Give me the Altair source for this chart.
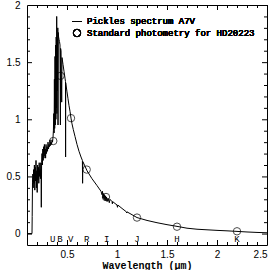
import altair as alt
import pandas as pd

# Pickles A7V spectrum
wavelength = [0.10, 0.12, 0.14, 0.150, 0.152, 0.155, 0.158, 0.162, 0.166, 0.170, 0.174, 0.178,
              0.182, 0.186, 0.190, 0.194, 0.198, 0.202, 0.206, 0.210, 0.214, 0.218, 0.222, 0.226,
              0.230, 0.234, 0.238, 0.241, 0.243, 0.246, 0.250, 0.254, 0.258, 0.262, 0.266, 0.270,
              0.274, 0.278, 0.282, 0.286, 0.290, 0.295, 0.300, 0.305, 0.310, 0.315, 0.320, 0.325,
              0.330, 0.335, 0.340, 0.345, 0.350, 0.355, 0.360, 0.364, 0.368, 0.371, 0.374, 0.377,
              0.380, 0.383, 0.386, 0.389, 0.392, 0.395, 0.397, 0.399, 0.402, 0.405, 0.408, 0.410,
              0.412, 0.416, 0.420, 0.425, 0.430, 0.434, 0.436, 0.440, 0.447, 0.450, 0.460, 0.470,
              0.480, 0.485, 0.486, 0.487, 0.490, 0.500, 0.510, 0.520, 0.530, 0.540, 0.550, 0.563,
              0.580, 0.600, 0.620, 0.640, 0.654, 0.656, 0.658, 0.680, 0.700, 0.750, 0.800, 0.840,
              0.850, 0.855, 0.860, 0.866, 0.870, 0.875, 0.880, 0.886, 0.890, 0.895, 0.901, 0.910,
              0.923, 0.930, 0.950, 0.954, 0.956, 1.000, 1.005, 1.008, 1.050, 1.094, 1.097, 1.100,
              1.150, 1.200, 1.300, 1.400, 1.500, 1.600, 1.700, 1.800, 1.900, 2.000, 2.100, 2.200,
              2.300, 2.400, 2.500]
flux = [0.0, 0.0, 0.0, 0.0, 0.15, 0.45, 0.52, 0.40, 0.56, 0.44, 0.60, 0.38,
        0.58, 0.46, 0.64, 0.40, 0.55, 0.36, 0.60, 0.47, 0.58, 0.44, 0.62, 0.50,
        0.56, 0.48, 0.62, 0.52, 0.23, 0.62, 0.70, 0.60, 0.74, 0.64, 0.76, 0.66,
        0.78, 0.68, 0.74, 0.66, 0.78, 0.70, 0.76, 0.72, 0.80, 0.74, 0.78, 0.76,
        0.82, 0.77, 0.80, 0.78, 0.82, 0.80, 0.84, 0.90, 1.05, 0.88, 1.35, 0.92,
        1.55, 0.95, 1.65, 1.00, 1.72, 1.10, 1.90, 1.05, 1.70, 1.25, 1.80, 0.95,
        1.76, 1.72, 1.70, 1.68, 1.65, 0.95, 1.62, 1.60, 1.15, 1.54, 1.48, 1.42,
        1.36, 1.33, 0.67, 1.32, 1.30, 1.24, 1.18, 1.12, 1.07, 1.01, 0.96, 0.91,
        0.85, 0.78, 0.72, 0.67, 0.64, 0.44, 0.63, 0.59, 0.55, 0.48, 0.42, 0.37,
        0.34, 0.37, 0.31, 0.35, 0.30, 0.34, 0.29, 0.33, 0.29, 0.32, 0.28, 0.31,
        0.27, 0.30, 0.28, 0.26, 0.28, 0.25, 0.23, 0.25, 0.22, 0.19, 0.18, 0.19,
        0.165, 0.14, 0.115, 0.095, 0.078, 0.063, 0.047, 0.038, 0.033, 0.028, 0.024, 0.019,
        0.014, 0.010, 0.007]

# Standard photometry for HD20223
phot_wavelength = [0.363, 0.435, 0.54, 0.697, 0.89, 1.20, 1.60, 2.20]
phot_flux = [0.81, 1.38, 1.01, 0.56, 0.32, 0.14, 0.06, 0.02]

# Band labels
band_names = ["U", "B", "V", "R", "I", "J", "H", "K"]
band_wavelength = [0.357, 0.43, 0.537, 0.697, 0.897, 1.20, 1.60, 2.20]

# Tick values
x_major = [0.5, 1.0, 1.5, 2.0, 2.5]
x_minor = [round(0.1 * i, 1) for i in range(2, 25) if i % 5 != 0]
y_major = [0.0, 0.5, 1.0, 1.5]
y_minor = [round(0.1 * i, 1) for i in range(1, 20) if i % 5 != 0]

spec = pd.DataFrame({"wl": wavelength, "flux": flux, "i": list(range(len(wavelength)))})
phot = pd.DataFrame({"wl": phot_wavelength, "flux": phot_flux})
bands = pd.DataFrame({"wl": band_wavelength, "name": band_names})

LABEL_FONT = "Liberation Sans"
MONO = "Liberation Mono"
W, H = 240, 240


def xs():
    return alt.Scale(domain=[0.1, 2.5], nice=False, zero=False)


def ys():
    return alt.Scale(domain=[-0.1, 2.0], nice=False, zero=False)


line = alt.Chart(spec).mark_line(color="black", strokeWidth=1).encode(
    x=alt.X("wl:Q", scale=xs(), axis=alt.Axis(
        orient="bottom", values=x_major, format="~g", ticks=False, tickSize=0, domain=False,
        grid=False, labelFont=LABEL_FONT, labelFontSize=10, labelColor="black",
        labelPadding=4, title="Wavelength (\u03bcm)", titleFont=MONO, titleFontSize=10,
        titleFontWeight="bold", titleColor="black", titlePadding=1)),
    y=alt.Y("flux:Q", scale=ys(), axis=alt.Axis(
        orient="left", values=y_major + [2.0], format="~g", ticks=False, tickSize=0,
        domain=False, grid=False, labelFont=LABEL_FONT, labelFontSize=10,
        labelColor="black", labelPadding=7, title=None)),
    order="i:Q",
)

circles = alt.Chart(phot).mark_point(shape="circle", size=55, color="black", strokeWidth=1,
                                     filled=False).encode(
    x=alt.X("wl:Q", scale=xs(), axis=None),
    y=alt.Y("flux:Q", scale=ys(), axis=None),
)


def xticks(values, length):
    df = pd.DataFrame({"v": values})
    base = alt.Chart(df).mark_rule(color="black", strokeWidth=1, xOffset=0.5)
    bottom = base.encode(x=alt.X("v:Q", scale=xs(), axis=None),
                         y=alt.value(H), y2=alt.value(H - length))
    top = base.encode(x=alt.X("v:Q", scale=xs(), axis=None),
                      y=alt.value(0), y2=alt.value(length))
    return [bottom, top]


def yticks(values, length):
    df = pd.DataFrame({"v": values})
    base = alt.Chart(df).mark_rule(color="black", strokeWidth=1, yOffset=0.5)
    left = base.encode(y=alt.Y("v:Q", scale=ys(), axis=None),
                       x=alt.value(0), x2=alt.value(length))
    right = base.encode(y=alt.Y("v:Q", scale=ys(), axis=None),
                        x=alt.value(W), x2=alt.value(W - length))
    return [left, right]


tick_layers = xticks(x_major, 5) + xticks(x_minor, 3) + yticks(y_major, 5) + yticks(y_minor, 3)

band_text = alt.Chart(bands).mark_text(font=MONO, fontSize=9, color="black",
                                       baseline="middle", align="center").encode(
    x=alt.X("wl:Q", scale=xs(), axis=None),
    y=alt.value(234),
    text="name:N",
)

leg_line = alt.Chart(phot).mark_rule(color="black", strokeWidth=1).encode(
    x=alt.value(45), x2=alt.value(55), y=alt.value(16.5)
)
leg_circle = alt.Chart(phot).mark_point(shape="circle", size=55, color="black",
                                        filled=False, strokeWidth=1).encode(
    x=alt.value(50), y=alt.value(28)
)
leg_text1 = alt.Chart(phot).mark_text(font=MONO, fontSize=9, color="black", align="left",
                                      baseline="middle").encode(
    x=alt.value(60), y=alt.value(16), text=alt.value("Pickles spectrum A7V")
)
leg_text2 = alt.Chart(phot).mark_text(font=MONO, fontSize=9, color="black", align="left",
                                      baseline="middle").encode(
    x=alt.value(60), y=alt.value(28), text=alt.value("Standard photometry for HD20223")
)

chart = alt.layer(
    line, circles, *tick_layers, band_text, leg_line, leg_circle, leg_text1, leg_text2
).resolve_axis(x="independent", y="independent").properties(
    width=W, height=H,
    autosize=alt.AutoSizeParams(type="none"),
    padding={"left": 27, "top": 5, "right": 9, "bottom": 25},
    background="white",
).configure_view(stroke="black", strokeWidth=1)

chart.save("out.html", embed_options={"renderer": "svg", "actions": False})
